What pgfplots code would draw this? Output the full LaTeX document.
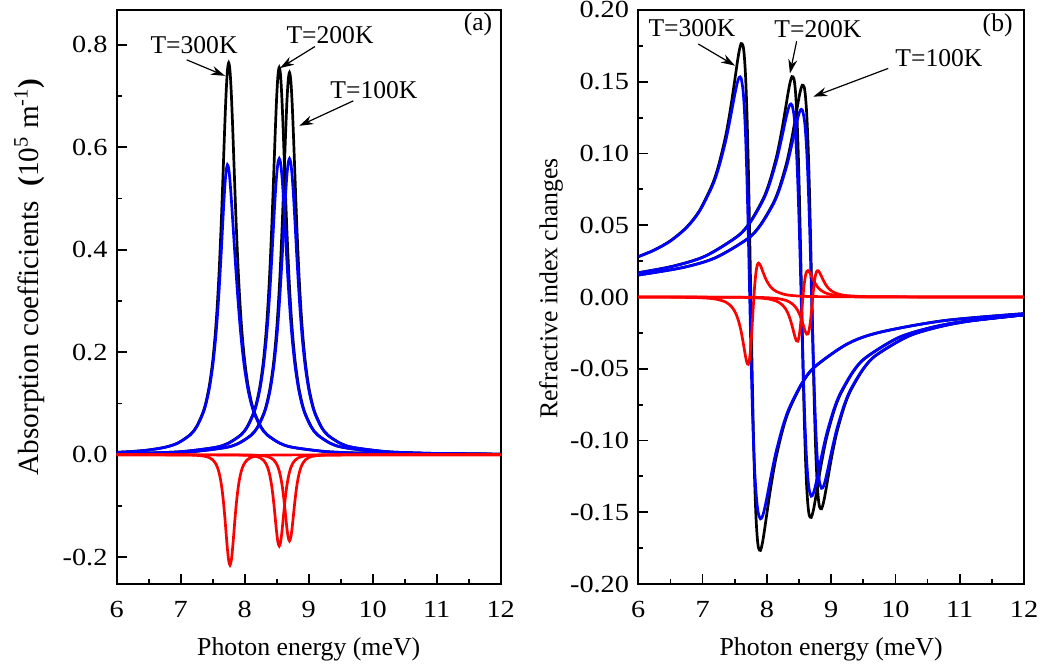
\documentclass[border=0pt]{standalone}
\usepackage{fontspec}
\setmainfont{Liberation Serif}
\usepackage{pgfplots}
\usepackage{pgfplotstable}
\pgfplotsset{compat=1.18}
\usetikzlibrary{arrows.meta}

% columns: x, alpha1 (black), alpha3 (red), alpha total (blue), dn1 (black), dn3 (red), dn total (blue)
\pgfplotstableread{
x a1 a3 at n1 n3 nt
6.00 0.0049 0.0000 0.0049 0.0281 -0.0001 0.0281
6.25 0.0066 0.0000 0.0066 0.0328 -0.0001 0.0327
6.50 0.0095 0.0000 0.0095 0.0392 -0.0001 0.0390
6.75 0.0147 -0.0001 0.0146 0.0486 -0.0003 0.0483
6.95 0.0227 -0.0002 0.0226 0.0601 -0.0005 0.0596
7.15 0.0395 -0.0005 0.0390 0.0783 -0.0011 0.0772
7.25 0.0556 -0.0010 0.0546 0.0919 -0.0019 0.0900
7.35 0.0835 -0.0022 0.0813 0.1104 -0.0033 0.1070
7.40 0.1055 -0.0034 0.1021 0.1221 -0.0047 0.1174
7.45 0.1368 -0.0055 0.1313 0.1357 -0.0067 0.1290
7.50 0.1826 -0.0097 0.1730 0.1509 -0.0100 0.1409
7.54 0.2354 -0.0157 0.2197 0.1634 -0.0141 0.1493
7.57 0.2883 -0.0233 0.2651 0.1716 -0.0184 0.1531
7.60 0.3562 -0.0351 0.3210 0.1766 -0.0241 0.1524
7.63 0.4410 -0.0538 0.3873 0.1749 -0.0314 0.1436
7.65 0.5066 -0.0714 0.4351 0.1674 -0.0367 0.1307
7.67 0.5767 -0.0943 0.4824 0.1525 -0.0419 0.1106
7.69 0.6463 -0.1222 0.5241 0.1282 -0.0458 0.0824
7.71 0.7073 -0.1535 0.5538 0.0935 -0.0469 0.0466
7.73 0.7497 -0.1838 0.5659 0.0496 -0.0434 0.0062
7.75 0.7650 -0.2065 0.5585 0.0000 -0.0344 -0.0344
7.77 0.7497 -0.2150 0.5347 -0.0496 -0.0209 -0.0705
7.79 0.7073 -0.2065 0.5008 -0.0935 -0.0057 -0.0992
7.81 0.6463 -0.1838 0.4625 -0.1282 0.0077 -0.1205
7.83 0.5767 -0.1535 0.4232 -0.1525 0.0170 -0.1354
7.85 0.5066 -0.1222 0.3844 -0.1674 0.0221 -0.1454
7.87 0.4410 -0.0943 0.3467 -0.1749 0.0236 -0.1514
7.90 0.3562 -0.0620 0.2942 -0.1766 0.0220 -0.1546
7.93 0.2883 -0.0404 0.2479 -0.1716 0.0185 -0.1530
7.96 0.2354 -0.0266 0.2088 -0.1634 0.0150 -0.1484
8.00 0.1826 -0.0157 0.1669 -0.1509 0.0110 -0.1399
8.05 0.1368 -0.0086 0.1282 -0.1357 0.0075 -0.1281
8.10 0.1055 -0.0050 0.1005 -0.1221 0.0052 -0.1168
8.15 0.0835 -0.0031 0.0804 -0.1104 0.0038 -0.1066
8.25 0.0556 -0.0013 0.0543 -0.0919 0.0021 -0.0898
8.35 0.0395 -0.0007 0.0388 -0.0783 0.0012 -0.0771
8.55 0.0227 -0.0002 0.0225 -0.0601 0.0005 -0.0596
8.75 0.0147 -0.0001 0.0146 -0.0486 0.0003 -0.0483
9.25 0.0066 0.0000 0.0066 -0.0328 0.0001 -0.0327
9.75 0.0037 0.0000 0.0037 -0.0247 0.0000 -0.0246
10.75 0.0017 0.0000 0.0017 -0.0165 0.0000 -0.0165
12.00 0.0008 0.0000 0.0008 -0.0116 0.0000 -0.0116
}\tA

\pgfplotstableread{
x a1 a3 at n1 n3 nt
6.00 0.0023 0.0000 0.0023 0.0169 0.0000 0.0169
6.54 0.0037 0.0000 0.0037 0.0215 0.0000 0.0214
7.04 0.0065 0.0000 0.0065 0.0285 -0.0001 0.0284
7.54 0.0145 -0.0001 0.0145 0.0423 -0.0002 0.0421
7.74 0.0225 -0.0002 0.0223 0.0523 -0.0004 0.0519
7.94 0.0390 -0.0005 0.0386 0.0682 -0.0009 0.0673
8.04 0.0550 -0.0009 0.0540 0.0800 -0.0015 0.0785
8.14 0.0825 -0.0021 0.0804 0.0960 -0.0027 0.0934
8.19 0.1043 -0.0034 0.1009 0.1062 -0.0038 0.1025
8.24 0.1352 -0.0057 0.1295 0.1180 -0.0055 0.1126
8.29 0.1805 -0.0101 0.1703 0.1313 -0.0082 0.1231
8.33 0.2326 -0.0169 0.2158 0.1422 -0.0116 0.1305
8.36 0.2850 -0.0253 0.2597 0.1493 -0.0152 0.1341
8.39 0.3520 -0.0386 0.3134 0.1536 -0.0197 0.1339
8.42 0.4358 -0.0592 0.3767 0.1522 -0.0249 0.1273
8.44 0.5006 -0.0780 0.4225 0.1457 -0.0282 0.1174
8.46 0.5699 -0.1012 0.4688 0.1327 -0.0305 0.1021
8.48 0.6387 -0.1270 0.5116 0.1115 -0.0308 0.0808
8.50 0.6989 -0.1521 0.5468 0.0814 -0.0277 0.0536
8.52 0.7409 -0.1710 0.5699 0.0431 -0.0210 0.0222
8.54 0.7560 -0.1780 0.5780 0.0000 -0.0112 -0.0112
8.56 0.7409 -0.1710 0.5699 -0.0431 -0.0005 -0.0436
8.58 0.6989 -0.1521 0.5468 -0.0814 0.0086 -0.0727
8.60 0.6387 -0.1270 0.5116 -0.1115 0.0148 -0.0967
8.62 0.5699 -0.1012 0.4688 -0.1327 0.0178 -0.1148
8.64 0.5006 -0.0780 0.4225 -0.1457 0.0184 -0.1272
8.66 0.4358 -0.0592 0.3767 -0.1522 0.0175 -0.1347
8.69 0.3520 -0.0386 0.3134 -0.1536 0.0149 -0.1388
8.72 0.2850 -0.0253 0.2597 -0.1493 0.0120 -0.1372
8.75 0.2326 -0.0169 0.2158 -0.1422 0.0095 -0.1326
8.79 0.1805 -0.0101 0.1703 -0.1313 0.0069 -0.1244
8.84 0.1352 -0.0057 0.1295 -0.1180 0.0047 -0.1133
8.89 0.1043 -0.0034 0.1009 -0.1062 0.0033 -0.1029
8.94 0.0825 -0.0021 0.0804 -0.0960 0.0024 -0.0936
9.04 0.0550 -0.0009 0.0540 -0.0800 0.0013 -0.0786
9.14 0.0390 -0.0005 0.0386 -0.0682 0.0008 -0.0673
9.34 0.0225 -0.0002 0.0223 -0.0523 0.0004 -0.0519
9.54 0.0145 -0.0001 0.0145 -0.0423 0.0002 -0.0421
10.04 0.0065 0.0000 0.0065 -0.0285 0.0001 -0.0284
10.54 0.0037 0.0000 0.0037 -0.0215 0.0000 -0.0214
11.04 0.0024 0.0000 0.0024 -0.0172 0.0000 -0.0172
12.00 0.0012 0.0000 0.0012 -0.0124 0.0000 -0.0124
}\tB

\pgfplotstableread{
x a1 a3 at n1 n3 nt
6.00 0.0020 0.0000 0.0020 0.0153 0.0000 0.0153
6.70 0.0036 0.0000 0.0036 0.0206 0.0000 0.0206
7.20 0.0064 0.0000 0.0064 0.0274 -0.0001 0.0273
7.70 0.0143 -0.0001 0.0143 0.0406 -0.0002 0.0405
7.90 0.0222 -0.0001 0.0220 0.0503 -0.0003 0.0499
8.10 0.0385 -0.0004 0.0381 0.0655 -0.0008 0.0647
8.20 0.0542 -0.0009 0.0533 0.0769 -0.0013 0.0755
8.30 0.0814 -0.0020 0.0794 0.0923 -0.0024 0.0899
8.35 0.1029 -0.0032 0.0997 0.1021 -0.0034 0.0987
8.40 0.1334 -0.0054 0.1280 0.1134 -0.0049 0.1086
8.45 0.1781 -0.0096 0.1685 0.1262 -0.0073 0.1189
8.49 0.2295 -0.0159 0.2136 0.1366 -0.0103 0.1263
8.52 0.2812 -0.0239 0.2573 0.1434 -0.0134 0.1301
8.55 0.3473 -0.0364 0.3109 0.1476 -0.0173 0.1304
8.58 0.4300 -0.0558 0.3742 0.1463 -0.0216 0.1246
8.60 0.4940 -0.0737 0.4203 0.1400 -0.0243 0.1157
8.62 0.5624 -0.0955 0.4669 0.1275 -0.0259 0.1016
8.64 0.6302 -0.1199 0.5103 0.1072 -0.0257 0.0815
8.66 0.6897 -0.1436 0.5461 0.0782 -0.0224 0.0558
8.68 0.7311 -0.1613 0.5697 0.0414 -0.0159 0.0256
8.70 0.7460 -0.1680 0.5780 0.0000 -0.0068 -0.0068
8.72 0.7311 -0.1613 0.5697 -0.0414 0.0028 -0.0386
8.74 0.6897 -0.1436 0.5461 -0.0782 0.0108 -0.0674
8.76 0.6302 -0.1199 0.5103 -0.1072 0.0159 -0.0912
8.78 0.5624 -0.0955 0.4669 -0.1275 0.0182 -0.1093
8.80 0.4940 -0.0737 0.4203 -0.1400 0.0183 -0.1217
8.82 0.4300 -0.0558 0.3742 -0.1463 0.0171 -0.1292
8.85 0.3473 -0.0364 0.3109 -0.1476 0.0143 -0.1333
8.88 0.2812 -0.0239 0.2573 -0.1434 0.0115 -0.1320
8.91 0.2295 -0.0159 0.2136 -0.1366 0.0090 -0.1276
8.95 0.1781 -0.0096 0.1685 -0.1262 0.0065 -0.1197
9.00 0.1334 -0.0054 0.1280 -0.1134 0.0044 -0.1090
9.05 0.1029 -0.0032 0.0997 -0.1021 0.0031 -0.0990
9.10 0.0814 -0.0020 0.0794 -0.0923 0.0022 -0.0901
9.20 0.0542 -0.0009 0.0533 -0.0769 0.0012 -0.0756
9.30 0.0385 -0.0004 0.0381 -0.0655 0.0008 -0.0647
9.50 0.0222 -0.0001 0.0220 -0.0503 0.0003 -0.0499
9.70 0.0143 -0.0001 0.0143 -0.0406 0.0002 -0.0405
10.20 0.0064 0.0000 0.0064 -0.0274 0.0001 -0.0273
10.70 0.0036 0.0000 0.0036 -0.0206 0.0000 -0.0206
11.20 0.0023 0.0000 0.0023 -0.0165 0.0000 -0.0165
12.00 0.0013 0.0000 0.0013 -0.0125 0.0000 -0.0125
}\tC

\newcommand\annfont{\fontsize{12.8}{15}\selectfont}
\tikzset{annarrow/.style={-{Stealth[length=7pt,width=4.5pt]}, line width=0.6pt}}

\pgfplotsset{
  common/.style={
    scale only axis, anchor=south west, height=287pt,
    xmin=6, xmax=12, xtick={6,7,8,9,10,11,12}, minor x tick num=1,
    tick pos=left, tick align=inside,
    major tick length=5pt, minor tick length=2.5pt,
    axis line style={line width=1pt},
    every tick/.style={black, line width=0.9pt},
    /pgf/number format/assume math mode=true,
    tick label style={font=\fontsize{12.3}{14}\selectfont, xscale=1.15},
    xticklabel style={yshift=-5pt},
    yticklabel style={xshift=-0.5pt},
    xlabel={Photon energy (meV)},
    every axis x label/.style={at={(axis description cs:0.5,-0.1237)}, anchor=base},
    x label style={font=\fontsize{12.9}{15}\selectfont},
    every axis plot/.append style={line width=1.35pt, smooth, no markers},
  }
}

\begin{document}
\begin{tikzpicture}
\useasboundingbox (0pt,0pt) rectangle (521.5pt,334.5pt);

\begin{axis}[common,
  at={(58.35pt,42.5pt)}, width=192pt,
  ymin=-0.252, ymax=0.868,
  ytick={-0.2,0,0.2,0.4,0.6,0.8}, minor y tick num=1,
  yticklabel style={/pgf/number format/.cd, fixed, fixed zerofill, precision=1},
  ylabel={Absorption coefficients\ \ \textbf{(}10\textsuperscript{5} m\textsuperscript{-1}\textbf{)}},
  every axis y label/.style={at={(axis description cs:-0.228,0.535)}, rotate=90, anchor=center},
  y label style={font=\fontsize{14.6}{17}\selectfont},
]
\addplot[black] table[x=x,y=a1]{\tA};
\addplot[black] table[x=x,y=a1]{\tB};
\addplot[black] table[x=x,y=a1]{\tC};
\addplot[blue] table[x=x,y=at]{\tA};
\addplot[blue] table[x=x,y=at]{\tB};
\addplot[blue] table[x=x,y=at]{\tC};
\addplot[red] table[x=x,y=a3]{\tA};
\addplot[red] table[x=x,y=a3]{\tB};
\addplot[red] table[x=x,y=a3]{\tC};
\node[font=\annfont] at (axis cs:7.208,0.800) {T=300K};
\draw[annarrow] (axis cs:7.094,0.7707) -- (axis cs:7.692,0.7395);
\node[font=\annfont] at (axis cs:9.333,0.8195) {T=200K};
\draw[annarrow] (axis cs:9.098,0.7967) -- (axis cs:8.552,0.7545);
\node[font=\annfont] at (axis cs:10.02,0.712) {T=100K};
\draw[annarrow] (axis cs:9.697,0.6907) -- (axis cs:8.853,0.642);
\node[font=\annfont] at (axis cs:11.645,0.839) {(a)};
\end{axis}

\begin{axis}[common,
  at={(319.15pt,42.5pt)}, width=192.85pt,
  ymin=-0.2, ymax=0.2,
  ytick={-0.2,-0.15,-0.1,-0.05,0,0.05,0.1,0.15,0.2}, minor y tick num=1,
  yticklabel style={/pgf/number format/.cd, fixed, fixed zerofill, precision=2},
  ylabel={Refractive index changes},
  every axis y label/.style={at={(axis description cs:-0.226,0.515)}, rotate=90, anchor=center},
  y label style={font=\fontsize{12.9}{15}\selectfont},
]
\addplot[black] table[x=x,y=n1]{\tA};
\addplot[black] table[x=x,y=n1]{\tB};
\addplot[black] table[x=x,y=n1]{\tC};
\addplot[blue] table[x=x,y=nt]{\tA};
\addplot[blue] table[x=x,y=nt]{\tB};
\addplot[blue] table[x=x,y=nt]{\tC};
\addplot[red] table[x=x,y=n3]{\tA};
\addplot[red] table[x=x,y=n3]{\tB};
\addplot[red] table[x=x,y=n3]{\tC};
\node[font=\annfont] at (axis cs:6.835,0.1877) {T=300K};
\draw[annarrow] (axis cs:6.933,0.1763) -- (axis cs:7.504,0.1612);
\node[font=\annfont] at (axis cs:8.795,0.187) {T=200K};
\draw[annarrow] (axis cs:8.463,0.1782) -- (axis cs:8.359,0.1558);
\node[font=\annfont] at (axis cs:10.677,0.1668) {T=100K};
\draw[annarrow] (axis cs:9.888,0.1593) -- (axis cs:8.722,0.1396);
\node[font=\annfont] at (axis cs:11.59,0.189) {(b)};
\end{axis}
\end{tikzpicture}
\end{document}
